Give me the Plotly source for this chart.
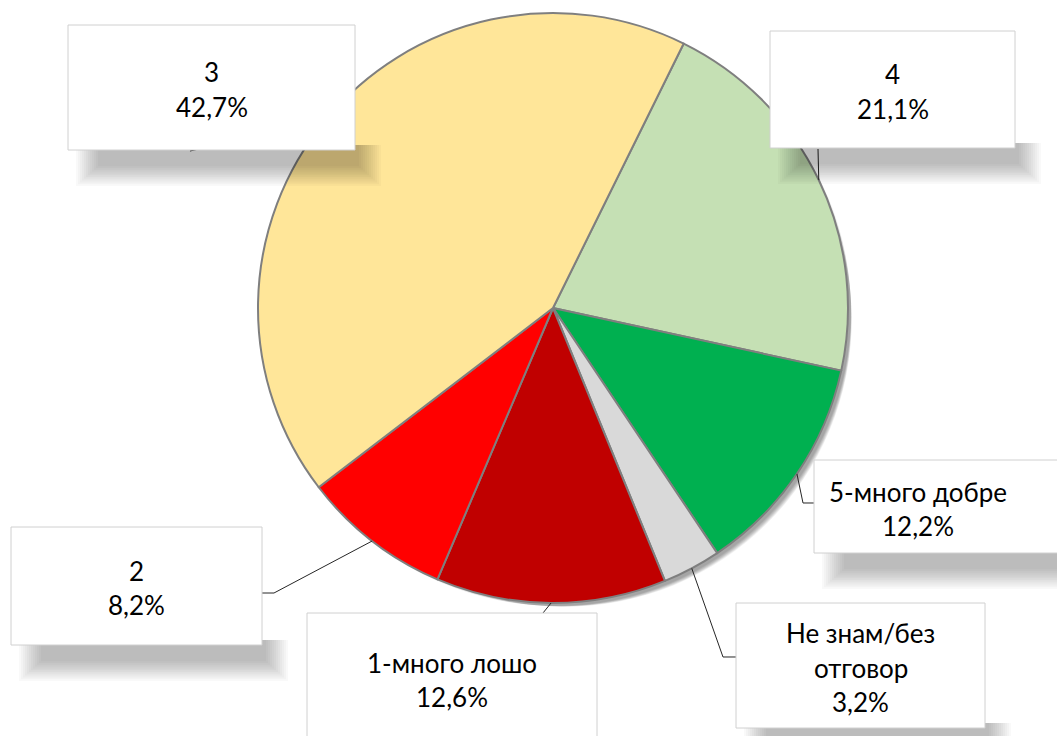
import math
import textwrap

import plotly.graph_objects as go

# Data (clockwise from the 3/4 boundary)
categories = ["4", "5-много добре", "Не знам/без отговор", "1-много лошо", "2", "3"]
shares = [21.1, 12.2, 3.2, 12.6, 8.2, 42.7]
slice_colours = ["#C5E0B4", "#00B050", "#D9D9D9", "#C00000", "#FF0000", "#FFE699"]

W, H = 1057, 736
CX, CY, R = 553, 308, 295
START_ANGLE = 26.3

# label boxes in pixels: x0, y0, x1, y1
boxes = {
    "4": (770, 31, 1015, 148),
    "5-много добре": (814, 460, 1070, 553),
    "Не знам/без отговор": (736, 603, 985, 728),
    "1-много лошо": (307, 613, 597, 760),
    "2": (11, 527, 262, 645),
    "3": (68, 25, 355, 150),
}
# leader line bends / ends near each box
leader_ends = {
    "4": [(818, 149)],
    "5-много добре": [(803, 503), (814, 503)],
    "Не знам/без отговор": [(723, 657), (736, 657)],
    "1-много лошо": [(543, 613)],
    "2": [(274, 593), (262, 593)],
    "3": [(190, 151)],
}
# text centre for boxes cut by the page edge
text_pos = {"1-много лошо": (452, 680), "5-много добре": (918, 509)}


def px(x):
    return x / W


def py(y):
    return 1 - y / H


def fmt_pct(v):
    return f"{v:.1f}".replace(".", ",") + "%"


fig = go.Figure(
    go.Pie(
        labels=categories,
        values=shares,
        sort=False,
        direction="clockwise",
        rotation=START_ANGLE,
        marker=dict(colors=slice_colours, line=dict(color="#7F7F7F", width=2)),
        textinfo="none",
        hoverinfo="skip",
        domain=dict(x=[px(CX - R), px(CX + R)], y=[py(CY + R), py(CY - R)]),
    )
)

shapes = []

# soft shadow of the pie (bottom right)
for k in range(8):
    off = 3 + k * 1.3
    shrink = k * 1.2
    shapes.append(dict(
        type="circle", xref="paper", yref="paper", layer="below",
        x0=px(CX - R + off + shrink), x1=px(CX + R + off - shrink),
        y0=py(CY + R + off - shrink), y1=py(CY - R + off + shrink),
        fillcolor="rgba(0,0,0,0.05)", line=dict(width=0),
    ))

# leader lines: from slice mid-angle on the rim to the box
total = sum(shares)
acc = 0.0
for name, v in zip(categories, shares):
    mid = math.radians(START_ANGLE + (acc + v / 2) / total * 360)
    acc += v
    ex, ey = CX + R * math.sin(mid), CY - R * math.cos(mid)
    pts = [(ex, ey)] + leader_ends[name]
    path = "M " + " L ".join(f"{px(x):.5f},{py(y):.5f}" for x, y in pts)
    shapes.append(dict(type="path", xref="paper", yref="paper", path=path,
                       line=dict(color="#262626", width=1)))

# box shadows (stacked translucent rects fake a blur)
for name, (x0, y0, x1, y1) in boxes.items():
    for k in range(12):
        shapes.append(dict(
            type="rect", xref="paper", yref="paper",
            x0=px(x0 + 8 + k * 2), x1=px(x1 + 26 - k * 2),
            y0=py(y1 + 36 - k * 1.8), y1=py(y1 - 5),
            fillcolor="rgba(0,0,0,0.024)", line=dict(width=0),
        ))

# boxes
for name, (x0, y0, x1, y1) in boxes.items():
    shapes.append(dict(
        type="rect", xref="paper", yref="paper",
        x0=px(x0), x1=px(x1), y0=py(y1), y1=py(y0),
        fillcolor="white", line=dict(color="#D0D0D0", width=1),
    ))

annotations = []
LINE = 34.5
for name, v in zip(categories, shares):
    x0, y0, x1, y1 = boxes[name]
    lines = textwrap.wrap(name, 13) + [fmt_pct(v)]
    cx, cy = text_pos.get(name, ((x0 + x1) / 2, (y0 + y1) / 2 + 2))
    for i, t in enumerate(lines):
        yy = cy + (i - (len(lines) - 1) / 2) * LINE
        annotations.append(dict(
            x=px(cx), y=py(yy), xref="paper", yref="paper", text=t,
            showarrow=False, xanchor="center", yanchor="middle",
            font=dict(family="Lato, Noto Sans, sans-serif", size=26, color="black"),
        ))

fig.update_layout(
    width=W, height=H,
    margin=dict(l=0, r=0, t=0, b=0),
    paper_bgcolor="white", plot_bgcolor="white",
    showlegend=False,
    shapes=shapes,
    annotations=annotations,
    hovermode=False,
)

fig.write_html(
    "out.html",
    config={"displayModeBar": False},
    post_script="document.body.style.margin = '0';",
)
